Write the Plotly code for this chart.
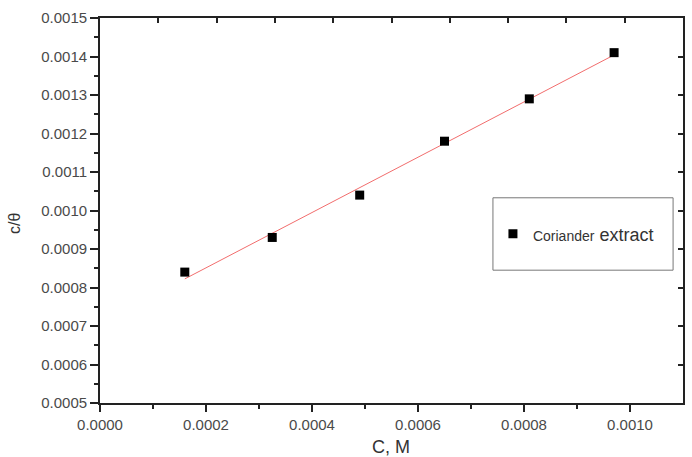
import numpy as np
import plotly.graph_objects as go

# Data
conc = [0.00016, 0.000325, 0.00049, 0.00065, 0.00081, 0.00097]
c_theta = [0.00084, 0.00093, 0.00104, 0.00118, 0.00129, 0.00141]
series_name = "<span style='font-size:14px'>Coriander</span> extract"
x_title = "C, M"
y_title = "c/θ"

slope, intercept = np.polyfit(conc, c_theta, 1)
fit_x = [conc[0], conc[-1]]
fit_y = [slope * v + intercept for v in fit_x]

FONT = "Liberation Sans, Arial, sans-serif"
TICKC = "#4a4a4a"

fig = go.Figure()
fig.add_trace(go.Scatter(x=fit_x, y=fit_y, mode="lines",
                         line=dict(color="#f26d6d", width=1), showlegend=False,
                         hoverinfo="skip"))
fig.add_trace(go.Scatter(x=conc, y=c_theta, mode="markers", name=series_name,
                         marker=dict(symbol="square", size=9, color="black",
                                     line=dict(width=0))))
# dummy trace to host the top/right framing axes
fig.add_trace(go.Scatter(x=[None], y=[None], xaxis="x2", yaxis="y2",
                         showlegend=False, hoverinfo="skip"))

fig.update_layout(
    width=692, height=457,
    margin=dict(l=100, r=9, t=18, b=54),
    paper_bgcolor="white", plot_bgcolor="white",
    font=dict(family=FONT, size=15, color=TICKC),
    xaxis=dict(range=[0, 0.0011], tickvals=[0, 0.0002, 0.0004, 0.0006, 0.0008, 0.0010],
               tickformat=".4f", ticks="outside", ticklen=7, tickwidth=1.5,
               tickcolor="#222", showline=True, linecolor="#222", linewidth=1.8,
               showgrid=False, zeroline=False,
               minor=dict(tickvals=[0.0001, 0.0003, 0.0005, 0.0007, 0.0009],
                          ticks="outside", ticklen=4, tickwidth=1.5, tickcolor="#222"),
               tickfont=dict(size=15, color=TICKC)),
    yaxis=dict(range=[0.0005, 0.0015], dtick=0.0001, tick0=0.0005,
               tickformat=".4f", ticks="outside", ticklen=8, tickwidth=1.5,
               tickcolor="#222", showline=True, linecolor="#222", linewidth=1.8,
               showgrid=False, zeroline=False,
               minor=dict(dtick=0.00005, ticks="outside", ticklen=4, tickwidth=1.5,
                          tickcolor="#222"),
               tickfont=dict(size=15, color=TICKC)),
    xaxis2=dict(overlaying="x", side="top", range=[0, 10], dtick=2, tick0=0,
                ticks="inside", ticklen=5, tickwidth=1.5, tickcolor="#222",
                showticklabels=False, showline=True, linecolor="#222", linewidth=1.8,
                showgrid=False, zeroline=False,
                minor=dict(dtick=1, ticks="inside", ticklen=5, tickwidth=1.5,
                           tickcolor="#222")),
    yaxis2=dict(overlaying="y", side="right", range=[0.0005, 0.0015], dtick=0.0001,
                tick0=0.0005, ticks="inside", ticklen=5, tickwidth=1.5,
                tickcolor="#222", showticklabels=False, showline=True,
                linecolor="#222", linewidth=1.8, showgrid=False, zeroline=False),
    showlegend=True,
    legend=dict(x=0.674, y=0.439, xanchor="left", yanchor="middle",
                bgcolor="rgba(0,0,0,0)", borderwidth=0,
                font=dict(size=18, color="#333333", family=FONT)),
    shapes=[dict(type="rect", xref="paper", yref="paper", x0=0.674, x1=0.983,
                 y0=0.345, y1=0.533, line=dict(color="#777777", width=1),
                 fillcolor="rgba(0,0,0,0)")],
    annotations=[
        dict(text=x_title, xref="paper", yref="paper", x=0.499, y=-0.115,
             xanchor="center", yanchor="middle", showarrow=False,
             font=dict(size=18, color="#333333")),
        dict(text=y_title, xref="paper", yref="paper", x=-0.148, y=0.467,
             xanchor="center", yanchor="middle", showarrow=False, textangle=-90,
             font=dict(size=16, color="#333333")),
    ],
)

fig.write_html("out.html")
